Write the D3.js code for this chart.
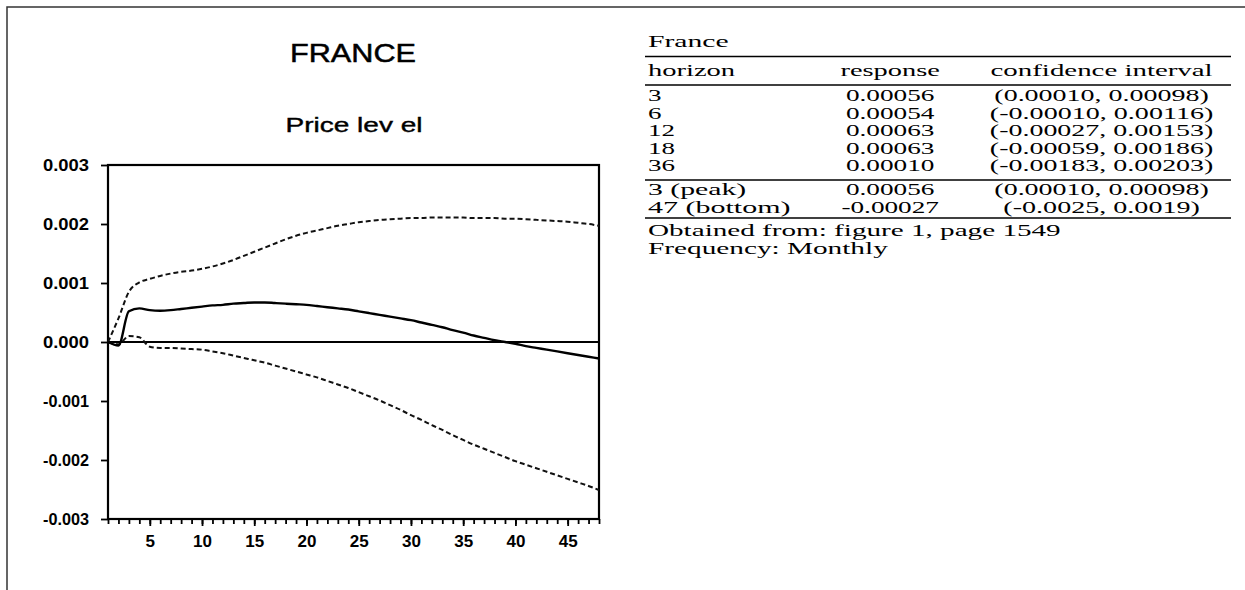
<!DOCTYPE html>
<html><head><meta charset="utf-8">
<script src="https://cdn.jsdelivr.net/npm/d3@7"></script>
<style>body{margin:0;background:#fff;} svg{display:block}</style>
</head><body>
<svg id="c" width="1245" height="590"></svg>
<script>
// ---------- data ----------
const horizons = d3.range(1, 49);
const response = [0, -0.00006, 0.00052, 0.00057, 0.00054, 0.00053, 0.00054, 0.00056, 0.00058, 0.00060,
  0.00062, 0.00063, 0.00065, 0.00066, 0.00067, 0.00067, 0.00066, 0.00065, 0.00064, 0.00063,
  0.00061, 0.00059, 0.00057, 0.00055, 0.00052, 0.00049, 0.00046, 0.00043, 0.00040, 0.00037,
  0.00033, 0.00029, 0.00025, 0.00020, 0.00016, 0.00011, 0.00007, 0.00003, 0.00000, -0.00003,
  -0.00007, -0.00010, -0.00013, -0.00016, -0.00019, -0.00022, -0.00025, -0.00028];
const upperBand = [0, 0.00040, 0.00085, 0.00101, 0.00107, 0.00112, 0.00116, 0.00119, 0.00121, 0.00124,
  0.00128, 0.00133, 0.00139, 0.00146, 0.00153, 0.00160, 0.00167, 0.00174, 0.00180, 0.00185,
  0.00189, 0.00193, 0.00197, 0.00200, 0.00203, 0.00205, 0.00207, 0.00208, 0.00209, 0.00210,
  0.00210, 0.00211, 0.00211, 0.00211, 0.00211, 0.00210, 0.00210, 0.00210, 0.00209, 0.00209,
  0.00208, 0.00207, 0.00206, 0.00205, 0.00204, 0.00202, 0.00200, 0.00197];
const lowerBand = [0, -0.00004, 0.00010, 0.00008, -0.00008, -0.00010, -0.00010, -0.00011, -0.00012, -0.00013,
  -0.00016, -0.00019, -0.00023, -0.00027, -0.00031, -0.00035, -0.00040, -0.00045, -0.00050, -0.00055,
  -0.00060, -0.00066, -0.00072, -0.00078, -0.00085, -0.00092, -0.00099, -0.00107, -0.00115, -0.00124,
  -0.00132, -0.00141, -0.00149, -0.00158, -0.00166, -0.00174, -0.00181, -0.00188, -0.00195, -0.00202,
  -0.00208, -0.00214, -0.00220, -0.00226, -0.00232, -0.00238, -0.00244, -0.00251];
const yTicks = [-0.003, -0.002, -0.001, 0, 0.001, 0.002, 0.003];
const yTickLabels = ["-0.003", "-0.002", "-0.001", "0.000", "0.001", "0.002", "0.003"];
const xMajorTicks = [5, 10, 15, 20, 25, 30, 35, 40, 45];
const xMinorTicks = d3.range(1, 49);
const chartTitle = "FRANCE";
const chartSubtitle = "Price lev el";

const tableTitle = "France";
const tableHeader = ["horizon", "response", "confidence interval"];
const tableHorizon = ["3", "6", "12", "18", "36"];
const tableResponse = ["0.00056", "0.00054", "0.00063", "0.00063", "0.00010"];
const tableCI = ["(0.00010, 0.00098)", "(-0.00010, 0.00116)", "(-0.00027, 0.00153)", "(-0.00059, 0.00186)", "(-0.00183, 0.00203)"];
const extremaHorizon = ["3 (peak)", "47 (bottom)"];
const extremaResponse = ["0.00056", "-0.00027"];
const extremaCI = ["(0.00010, 0.00098)", "(-0.0025, 0.0019)"];
const notes = ["Obtained from: figure 1, page 1549", "Frequency: Monthly"];

// ---------- drawing ----------
const svg = d3.select("#c");
svg.append("path").attr("d", "M7,590V7H1245").attr("fill", "none").attr("stroke", "#333").attr("stroke-width", 1.5);

const x = d3.scaleLinear().domain([1, 48]).range([108, 599]);
const y = d3.scaleLinear().domain([-0.003, 0.003]).range([519, 165]);
const sans = "'Liberation Sans', Arial, sans-serif";

// titles
svg.append("text").attr("x", 353).attr("y", 62).attr("text-anchor", "middle")
  .attr("font-family", sans).attr("font-size", 26).attr("textLength", 126).attr("lengthAdjust", "spacingAndGlyphs")
  .attr("stroke", "#000").attr("stroke-width", 0.5).text(chartTitle);
svg.append("text").attr("x", 354).attr("y", 132).attr("text-anchor", "middle")
  .attr("font-family", sans).attr("font-size", 21).attr("textLength", 137).attr("lengthAdjust", "spacingAndGlyphs")
  .attr("stroke", "#000").attr("stroke-width", 0.4).text(chartSubtitle);

// axes
const gxMinor = svg.append("g").attr("transform", `translate(0,${y(-0.003)})`)
  .call(d3.axisBottom(x).tickValues(xMinorTicks).tickSize(5).tickFormat(""));
const gx = svg.append("g").attr("transform", `translate(0,${y(-0.003)})`)
  .call(d3.axisBottom(x).tickValues(xMajorTicks).tickSize(7).tickPadding(9));
const gy = svg.append("g").attr("transform", `translate(${x(1)},0)`)
  .call(d3.axisLeft(y).tickValues(yTicks).tickSize(7).tickPadding(12).tickFormat((d, i) => yTickLabels[i]));
[gxMinor, gx, gy].forEach(g => {
  g.select(".domain").remove();
  g.selectAll("line").attr("stroke", "#000").attr("stroke-width", 1.8);
  g.selectAll("text").attr("font-family", sans).attr("font-weight", "bold").attr("font-size", 16).attr("fill", "#000");
});
gy.selectAll("text").attr("textLength", 46).attr("lengthAdjust", "spacingAndGlyphs");
gx.selectAll("text").attr("font-size", 17);

// plot frame
svg.append("rect").attr("x", x(1)).attr("y", y(0.003)).attr("width", x(48) - x(1)).attr("height", y(-0.003) - y(0.003))
  .attr("fill", "none").attr("stroke", "#000").attr("stroke-width", 2.2);
// zero line
svg.append("line").attr("x1", x(1)).attr("x2", x(48)).attr("y1", y(0)).attr("y2", y(0))
  .attr("stroke", "#000").attr("stroke-width", 2.2);

const line = d3.line().x((d, i) => x(horizons[i])).y(d => y(d)).curve(d3.curveMonotoneX);
svg.append("path").datum(upperBand).attr("d", line).attr("fill", "none").attr("stroke", "#111")
  .attr("stroke-width", 2).attr("stroke-dasharray", "5,3");
svg.append("path").datum(lowerBand).attr("d", line).attr("fill", "none").attr("stroke", "#111")
  .attr("stroke-width", 2).attr("stroke-dasharray", "5,3");
svg.append("path").datum(response).attr("d", line).attr("fill", "none").attr("stroke", "#000")
  .attr("stroke-width", 2.4);

// ---------- table (Computer-Modern-like advance widths, horizontally stretched) ----------
const cmW = {"0":.5,"1":.5,"2":.5,"3":.5,"4":.5,"5":.5,"6":.5,"7":.5,"8":.5,"9":.5,
  ".":.278, ",":.278, ":":.278, "(":.389, ")":.389, "-":.333, " ":.333,
  a:.5,b:.556,c:.444,d:.556,e:.444,f:.306,g:.5,h:.556,i:.278,k:.528,l:.278,m:.833,n:.556,o:.5,p:.556,
  q:.528,r:.392,s:.394,t:.389,u:.556,v:.528,w:.722,x:.528,y:.528,z:.444,F:.653,M:.917,O:.778};
const EMX = 27.0;            // horizontal px per em
const serif = "'Liberation Serif', 'Times New Roman', serif";
const tg = svg.append("g").attr("font-family", serif).attr("font-size", 16).attr("fill", "#000");
const L = 648;
const col2C = L + 8.97 * EMX, col3C = L + 16.8 * EMX, ruleX1 = 645, ruleX2 = 1231;
function cmWidth(s) { return d3.sum(Array.from(s), ch => cmW[ch] || .5) * EMX; }
function txt(s, xx, yy, anchor) {
  tg.append("text").attr("x", xx).attr("y", yy).attr("text-anchor", anchor || "start")
    .attr("textLength", cmWidth(s)).attr("lengthAdjust", "spacingAndGlyphs").text(s);
}
function rule(yy) {
  tg.append("line").attr("x1", ruleX1).attr("x2", ruleX2).attr("y1", yy).attr("y2", yy).attr("stroke", "#000").attr("stroke-width", 1.3);
}
txt(tableTitle, L, 47);
rule(56.5);
txt(tableHeader[0], L, 76); txt(tableHeader[1], col2C, 76, "middle"); txt(tableHeader[2], col3C, 76, "middle");
rule(85);
tableHorizon.forEach((h, i) => {
  const yy = 101 + i * 17.6;
  txt(h, L, yy); txt(tableResponse[i], col2C, yy, "middle"); txt(tableCI[i], col3C, yy, "middle");
});
rule(180);
extremaHorizon.forEach((h, i) => {
  const yy = 195 + i * 17.6;
  txt(h, L, yy); txt(extremaResponse[i], col2C, yy, "middle"); txt(extremaCI[i], col3C, yy, "middle");
});
rule(218);
notes.forEach((n, i) => txt(n, L, 236 + i * 17.6));
</script>
</body></html>
